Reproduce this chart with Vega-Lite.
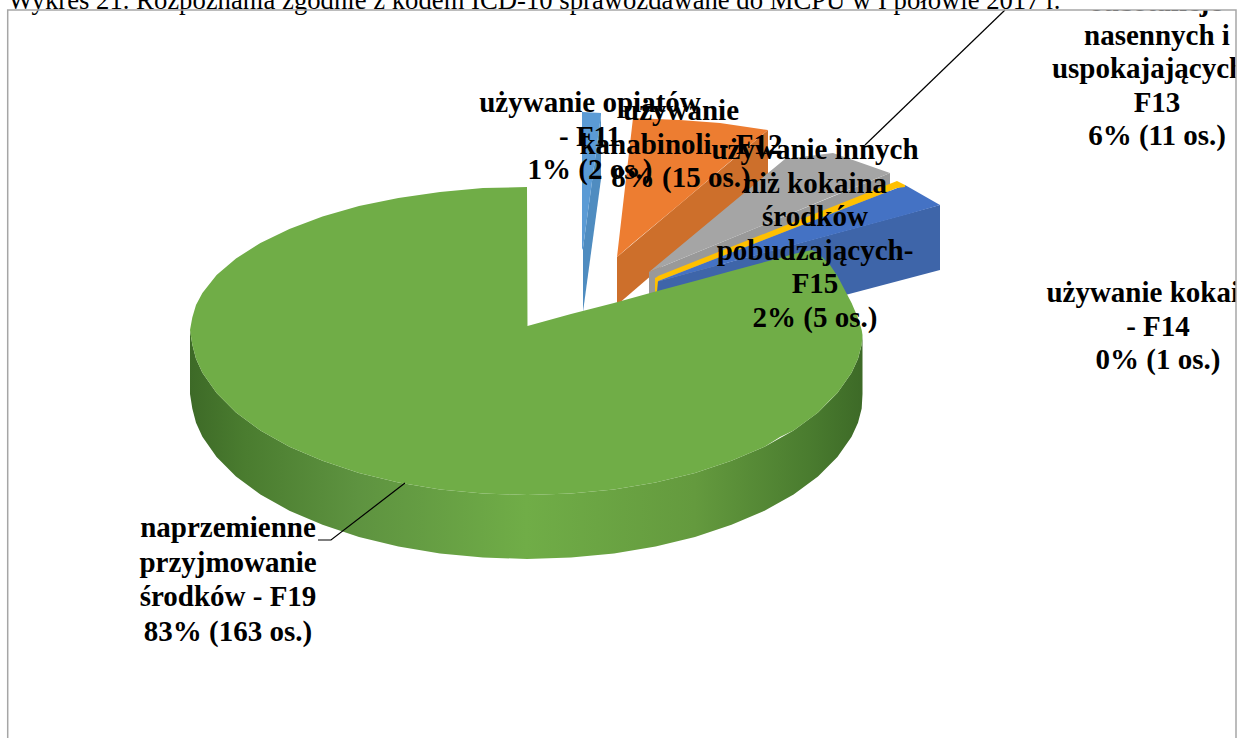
{
"$schema":"https://vega.github.io/schema/vega-lite/v6.json",
"width":1241,"height":738,"padding":0,
"autosize":"none",
"background":"white",
"view":{"stroke":null},
"datasets":{
"outline":[
{"part":"F11 bok","x":583,"y":248,"y2":312},{"part":"F11 bok","x":601,"y":115,"y2":179},
{"part":"F11","x":582,"y":112,"y2":250},{"part":"F11","x":583,"y":112,"y2":248},{"part":"F11","x":601,"y":113,"y2":115},
{"part":"F12 bok","x":617,"y":257,"y2":305},{"part":"F12 bok","x":768,"y":130,"y2":175},
{"part":"F12","x":617,"y":257,"y2":257},{"part":"F12","x":633,"y":118,"y2":243},{"part":"F12","x":680,"y":120,"y2":204},{"part":"F12","x":720,"y":123,"y2":170},{"part":"F12","x":768,"y":130,"y2":130},
{"part":"F13 bok","x":649,"y":272,"y2":295},{"part":"F13 bok","x":890,"y":173,"y2":192},
{"part":"F13","x":649,"y":272,"y2":272},{"part":"F13","x":785,"y":159,"y2":216},{"part":"F13","x":833,"y":153,"y2":196},{"part":"F13","x":890,"y":173,"y2":173},
{"part":"F14 bok","x":656,"y":282,"y2":345},{"part":"F14 bok","x":940,"y":205,"y2":270},
{"part":"F14","x":656,"y":282,"y2":282},{"part":"F14","x":905,"y":185,"y2":215},{"part":"F14","x":940,"y":205,"y2":205},
{"part":"F15","x":655,"y":278,"y2":292},{"part":"F15","x":657,"y":277,"y2":292},{"part":"F15","x":658,"y":276,"y2":281},{"part":"F15","x":897,"y":181,"y2":188},{"part":"F15","x":905,"y":185,"y2":187}
],
"side":[
{"x":190,"y":330,"y2":394},{"x":192.3,"y":344.4,"y2":408.4},{"x":196,"y":358.7,"y2":422.7},{"x":202.4,"y":372.7,"y2":436.7},{"x":216.6,"y":393,"y2":457},{"x":236,"y":412.5,"y2":476.5},{"x":260.4,"y":430.5,"y2":494.5},{"x":289.4,"y":446.7,"y2":510.7},{"x":322.5,"y":460.8,"y2":524.8},{"x":359,"y":473,"y2":537},{"x":398.4,"y":482.5,"y2":546.5},{"x":440,"y":489.4,"y2":553.4},{"x":483,"y":493.5,"y2":557.5},{"x":527,"y":495,"y2":559},{"x":571,"y":493.5,"y2":557.5},{"x":614,"y":489.4,"y2":553.4},{"x":655.6,"y":482.5,"y2":546.5},{"x":695,"y":473,"y2":537},{"x":731.5,"y":460.8,"y2":524.8},{"x":764.6,"y":446.7,"y2":510.7},{"x":793.6,"y":430.5,"y2":494.5},{"x":818,"y":412.5,"y2":476.5},{"x":837.4,"y":393,"y2":457},{"x":851.6,"y":372.7,"y2":436.7},{"x":858,"y":358.7,"y2":422.7},{"x":861.7,"y":344.4,"y2":408.4},{"x":862.5,"y":335,"y2":394}
],
"top":[
{"x":190,"y":330,"y2":330},{"x":192.3,"y":317.5,"y2":344.4},{"x":196,"y":305,"y2":358.7},{"x":202.4,"y":293,"y2":372.7},{"x":216.6,"y":275,"y2":393},{"x":236,"y":258.5,"y2":412.5},{"x":260.4,"y":243,"y2":430.5},{"x":289.4,"y":229,"y2":446.7},{"x":322.5,"y":216.6,"y2":460.8},{"x":359,"y":206,"y2":473},{"x":398.4,"y":198,"y2":482.5},{"x":440,"y":192,"y2":489.4},{"x":483,"y":188,"y2":493.5},{"x":527,"y":187,"y2":495},{"x":527.5,"y":326,"y2":495},{"x":571,"y":314,"y2":493.5},{"x":614,"y":303,"y2":489.4},{"x":655.6,"y":291.5,"y2":482.5},{"x":695,"y":281,"y2":473},{"x":731.5,"y":271,"y2":460.8},{"x":764.6,"y":262,"y2":446.7},{"x":780,"y":258,"y2":437},{"x":793.6,"y":254,"y2":430.5},{"x":812,"y":250,"y2":417},{"x":818,"y":253,"y2":412.5},{"x":830,"y":265,"y2":400},{"x":837.4,"y":276,"y2":393},{"x":851.6,"y":303,"y2":372.7},{"x":858,"y":318,"y2":358.7},{"x":861.7,"y":330,"y2":344.4},{"x":862.5,"y":335,"y2":335}
],
"labels":[
{"kod":"F14","os":1,"label":"używanie kokainy\n- F14\n0% (1 os.)","lx":1158,"ly":302},
{"kod":"F13","os":11,"label":"substancje\nnasennych i\nuspokajających -\nF13\n6% (11 os.)","lx":1157,"ly":11},
{"kod":"F11","os":2,"label":"używanie opiatów\n- F11\n1% (2 os.)","lx":590,"ly":112},
{"kod":"F12","os":15,"label":"używanie\nkanabinoli - F12\n8% (15 os.)","lx":681,"ly":120},
{"kod":"F15","os":5,"label":"używanie innych\nniż kokaina\nśrodków\npobudzających-\nF15\n2% (5 os.)","lx":815,"ly":159}
],
"leaders":[
{"id":"F13","x":1005,"y":10,"n":1},{"id":"F13","x":865,"y":145,"n":2},
{"id":"F19","x":405,"y":483,"n":1},{"id":"F19","x":331,"y":540,"n":2},{"id":"F19","x":318,"y":540,"n":3}
]
},
"layer":[
{"data":{"name":"outline"},"mark":{"type":"area"},
"encoding":{
"x":{"field":"x","type":"quantitative","scale":{"domain":[0,1241],"nice":false,"zero":false},"axis":null},
"y":{"field":"y","type":"quantitative","scale":{"domain":[0,738],"reverse":true,"nice":false,"zero":false},"axis":null},
"y2":{"field":"y2"},
"color":{"field":"part","type":"nominal","legend":null,"scale":{
"domain":["F11 bok","F11","F12 bok","F12","F13 bok","F13","F14 bok","F14","F15"],
"range":["#4f8cc0","#5b9bd5","#cd6f2b","#ed7d31","#999999","#a5a5a5","#3e65a9","#4472c4","#ffc000"]}}}},
{"data":{"name":"side"},"mark":{"type":"area","color":{"gradient":"linear","x1":0,"x2":1,"y1":0,"y2":0,"stops":[{"offset":0,"color":"#3d6a27"},{"offset":0.08,"color":"#4a7c2f"},{"offset":0.25,"color":"#5e9340"},{"offset":0.5,"color":"#70ad47"},{"offset":0.75,"color":"#649a3e"},{"offset":0.92,"color":"#4a7c2f"},{"offset":1,"color":"#3d6a27"}]}},
"encoding":{"x":{"field":"x","type":"quantitative"},"y":{"field":"y","type":"quantitative"},"y2":{"field":"y2"}}},
{"data":{"name":"top"},"mark":{"type":"area","color":"#70ad47"},
"encoding":{"x":{"field":"x","type":"quantitative"},"y":{"field":"y","type":"quantitative"},"y2":{"field":"y2"}}},
{"data":{"name":"leaders"},"mark":{"type":"line","color":"#000000","strokeWidth":1.2},
"encoding":{"x":{"field":"x","type":"quantitative"},"y":{"field":"y","type":"quantitative"},"detail":{"field":"id"},"order":{"field":"n"}}},
{"data":{"values":[{"kod":"F19","os":163,"label":"naprzemienne\nprzyjmowanie\nśrodków - F19\n83% (163 os.)","lx":228,"ly":537}]},"mark":{"type":"text","font":"Liberation Serif","fontWeight":"bold","fontSize":29,"lineHeight":34.7,"lineBreak":"\n","align":"center","baseline":"alphabetic","color":"#000000"},
"encoding":{"x":{"field":"lx","type":"quantitative"},"y":{"field":"ly","type":"quantitative"},"text":{"field":"label"}}},
{"data":{"name":"labels"},"mark":{"type":"text","font":"Liberation Serif","fontWeight":"bold","fontSize":29,"lineHeight":33.5,"lineBreak":"\n","align":"center","baseline":"alphabetic","color":"#000000"},
"encoding":{"x":{"field":"lx","type":"quantitative"},"y":{"field":"ly","type":"quantitative"},"text":{"field":"label"}}},
{"data":{"values":[{"a":1061,"b":1241,"c":0,"d":10},{"a":1236,"b":1241,"c":0,"d":738}]},"mark":{"type":"rect","color":"#ffffff"},
"encoding":{"x":{"field":"a","type":"quantitative"},"x2":{"field":"b"},"y":{"field":"c","type":"quantitative"},"y2":{"field":"d"}}},
{"data":{"values":[{"t":"Wykres 21. Rozpoznania zgodnie z kodem ICD-10 sprawozdawane do MCPU w I połowie 2017 r.","lx":8,"ly":8.5}]},"mark":{"type":"text","font":"Liberation Serif","fontSize":26.7,"align":"left","baseline":"alphabetic","color":"#000000"},
"encoding":{"x":{"field":"lx","type":"quantitative"},"y":{"field":"ly","type":"quantitative"},"text":{"field":"t"}}},
{"data":{"values":[{"a":7.7,"b":1236,"c":10,"d":800}]},"mark":{"type":"rect","fillOpacity":0,"stroke":"#a6a6a6","strokeWidth":1.5,"clip":true},
"encoding":{"x":{"field":"a","type":"quantitative"},"x2":{"field":"b"},"y":{"field":"c","type":"quantitative"},"y2":{"field":"d"}}}
]
}
